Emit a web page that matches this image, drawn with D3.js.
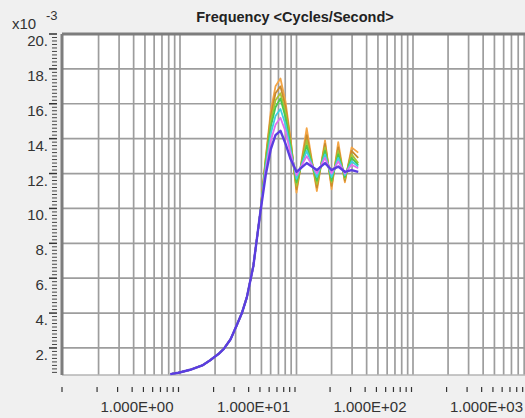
<!DOCTYPE html>
<html>
<head>
<meta charset="utf-8">
<script src="https://cdn.jsdelivr.net/npm/d3@7"></script>
<style>
  body { margin: 0; background: #f0f0f0; }
  svg { display: block; font-family: "Liberation Sans", Arial, sans-serif; }
</style>
</head>
<body>
<svg id="chart"></svg>
<script>
// frequency (Hz) of each sample
const freq = [0.85, 1.0, 1.26, 1.6, 1.87, 2.2, 2.45, 2.8, 3.16, 3.5, 3.86, 4.39, 5.0,
              5.6, 6.2, 6.8, 7.5, 8.3, 9.2, 10.3, 12.6, 15.4, 18.1, 20.6, 23.5, 26.8, 30.6, 34.9];

// response x10^-3, one array per curve
const orange  = [0.5, 0.58, 0.75, 1.0, 1.3, 1.65, 1.95, 2.5, 3.3, 4.0, 4.9, 6.7, 9.6,
                 12.9, 15.6, 17.0, 17.45, 16.1, 13.9, 10.9, 14.6, 11.0, 13.9, 11.1, 13.8, 11.5, 13.5, 13.2];
const brown   = [0.5, 0.58, 0.75, 1.0, 1.3, 1.65, 1.95, 2.5, 3.3, 4.0, 4.9, 6.7, 9.6,
                 12.8, 15.3, 16.6, 17.0, 15.8, 13.8, 11.1, 14.2, 11.2, 13.7, 11.3, 13.5, 11.6, 13.3, 12.9];
const olive   = [0.5, 0.58, 0.75, 1.0, 1.3, 1.65, 1.95, 2.5, 3.3, 4.0, 4.9, 6.7, 9.6,
                 12.7, 15.0, 16.2, 16.6, 15.5, 13.6, 11.3, 13.9, 11.4, 13.5, 11.5, 13.3, 11.7, 13.1, 12.6];
const green   = [0.5, 0.58, 0.75, 1.0, 1.3, 1.65, 1.95, 2.5, 3.3, 4.0, 4.9, 6.7, 9.6,
                 12.6, 14.7, 15.8, 16.3, 15.2, 13.5, 11.5, 13.6, 11.6, 13.3, 11.6, 13.1, 11.8, 12.9, 12.5];
const cyan    = [0.5, 0.58, 0.75, 1.0, 1.3, 1.65, 1.95, 2.5, 3.3, 4.0, 4.9, 6.7, 9.6,
                 12.4, 14.3, 15.3, 15.7, 14.8, 13.3, 11.7, 13.3, 11.8, 13.1, 11.8, 12.9, 11.9, 12.7, 12.4];
const magenta = [0.5, 0.58, 0.75, 1.0, 1.3, 1.65, 1.95, 2.5, 3.3, 4.0, 4.9, 6.7, 9.6,
                 12.2, 13.9, 14.8, 15.2, 14.4, 13.1, 11.9, 13.0, 12.0, 12.9, 12.0, 12.7, 12.0, 12.5, 12.3];
const blue    = [0.5, 0.58, 0.75, 1.0, 1.3, 1.65, 1.95, 2.5, 3.3, 4.0, 4.9, 6.7, 9.6,
                 11.9, 13.4, 14.2, 14.45, 13.7, 12.8, 12.1, 12.6, 12.2, 12.6, 12.2, 12.4, 12.1, 12.2, 12.1];

const seriesNames  = ["orange", "brown", "olive", "green", "cyan", "magenta", "blue"];
const seriesValues = [orange, brown, olive, green, cyan, magenta, blue];
const seriesColors = ["#f4a545", "#c98a2c", "#a8c234", "#4cc84c", "#3fcfe0", "#e070ee", "#5a3de0"];

const xDecades   = [0.1, 1, 10, 100, 1000];
const xLabels    = ["1.000E+00", "1.000E+01", "1.000E+02", "1.000E+03"];
const xLabelAt   = [1, 10, 100, 1000];
const yMajor     = [2, 4, 6, 8, 10, 12, 14, 16, 18, 20];
const title      = "Frequency <Cycles/Second>";

const width = 525, height = 418;
const plot = { left: 62, right: 528, top: 34, bottom: 375 };

const svg = d3.select("#chart").attr("width", width).attr("height", height);

const xScale = d3.scaleLog().domain([0.1, 1000]).range([plot.left, plot.right]);
const yScale = d3.scaleLinear().domain([0.45, 20]).range([plot.bottom, plot.top]);

// plot background
svg.append("rect")
    .attr("x", plot.left).attr("y", plot.top)
    .attr("width", plot.right - plot.left).attr("height", plot.bottom - plot.top)
    .attr("fill", "#ffffff");

// vertical grid: every 1..9 per decade
const xGrid = [];
xDecades.forEach(d => { for (let k = 1; k < 10; k++) if (d * k <= 1000) xGrid.push(d * k); });

svg.append("g").selectAll("line")
    .data(xGrid.filter(v => v > 0.1))
    .join("line")
    .attr("x1", d => xScale(d) + 1.5).attr("x2", d => xScale(d) + 1.5)
    .attr("y1", plot.top).attr("y2", plot.bottom)
    .attr("stroke", "#9d9d9d").attr("stroke-width", 1.7);

svg.append("g").selectAll("line")
    .data(yMajor.filter(v => v < 20))
    .join("line")
    .attr("x1", plot.left).attr("x2", plot.right)
    .attr("y1", d => yScale(d)).attr("y2", d => yScale(d))
    .attr("stroke", "#9d9d9d").attr("stroke-width", 1.7);

// bottom edge
svg.append("line")
    .attr("x1", plot.left).attr("x2", plot.right)
    .attr("y1", plot.bottom).attr("y2", plot.bottom)
    .attr("stroke", "#b5b5b5").attr("stroke-width", 1.5);

// curves
const line = d3.line()
    .x((d, i) => xScale(freq[i]))
    .y(d => yScale(d));

svg.append("g").selectAll("path")
    .data(seriesValues)
    .join("path")
    .attr("d", d => line(d))
    .attr("fill", "none")
    .attr("stroke", (d, i) => seriesColors[i])
    .attr("stroke-width", (d, i) => seriesNames[i] === "blue" ? 2.4 : 1.8)
    .attr("stroke-linejoin", "round");

// thick top and left frame
svg.append("line")
    .attr("x1", plot.left).attr("x2", plot.right)
    .attr("y1", plot.top).attr("y2", plot.top)
    .attr("stroke", "#7d7d7d").attr("stroke-width", 3);
svg.append("line")
    .attr("x1", plot.left).attr("x2", plot.left)
    .attr("y1", plot.top).attr("y2", plot.bottom)
    .attr("stroke", "#7d7d7d").attr("stroke-width", 3);

// y axis ticks, detached left of the frame
const yAxis = svg.append("g").attr("transform", `translate(${plot.left - 5},0)`);
const yMinor = d3.range(0.6, 20, 0.2).filter(v => Math.abs(v / 2 - Math.round(v / 2)) > 0.01);
yAxis.selectAll(".minor")
    .data(yMinor)
    .join("line")
    .attr("class", "minor")
    .attr("x1", -5).attr("x2", 0)
    .attr("y1", d => yScale(d)).attr("y2", d => yScale(d))
    .attr("stroke", "#444").attr("stroke-width", 1);
yAxis.selectAll(".major")
    .data(yMajor)
    .join("line")
    .attr("class", "major")
    .attr("x1", -8).attr("x2", 0)
    .attr("y1", d => yScale(d)).attr("y2", d => yScale(d))
    .attr("stroke", "#333").attr("stroke-width", 1.5);
// labels sit just below their tick
yAxis.selectAll("text")
    .data(yMajor)
    .join("text")
    .attr("x", -9).attr("y", d => yScale(d) + 12)
    .attr("text-anchor", "end")
    .attr("font-size", 15)
    .attr("fill", "#333")
    .text(d => d + ".");

// x axis ticks below the plot
const xAxis = svg.append("g").attr("transform", `translate(0,${plot.bottom + 12})`);
xAxis.selectAll("line")
    .data(xGrid)
    .join("line")
    .attr("x1", d => xScale(d)).attr("x2", d => xScale(d))
    .attr("y1", 0).attr("y2", 5)
    .attr("stroke", "#333").attr("stroke-width", 1.2);
xAxis.selectAll("text")
    .data(xLabelAt)
    .join("text")
    .attr("x", d => xScale(d) - 5)
    .attr("y", 24.5)
    .attr("text-anchor", "end")
    .attr("font-size", 15)
    .attr("fill", "#333")
    .text((d, i) => xLabels[i]);

// title and exponent
svg.append("text")
    .attr("x", 295).attr("y", 22)
    .attr("text-anchor", "middle")
    .attr("font-size", 14.5).attr("font-weight", "bold")
    .attr("fill", "#222")
    .text(title);

svg.append("text")
    .attr("x", 12).attr("y", 29)
    .attr("font-size", 15).attr("fill", "#333")
    .text("x10");
svg.append("text")
    .attr("x", 46).attr("y", 20)
    .attr("font-size", 13).attr("fill", "#333")
    .text("-3");
</script>
</body>
</html>
